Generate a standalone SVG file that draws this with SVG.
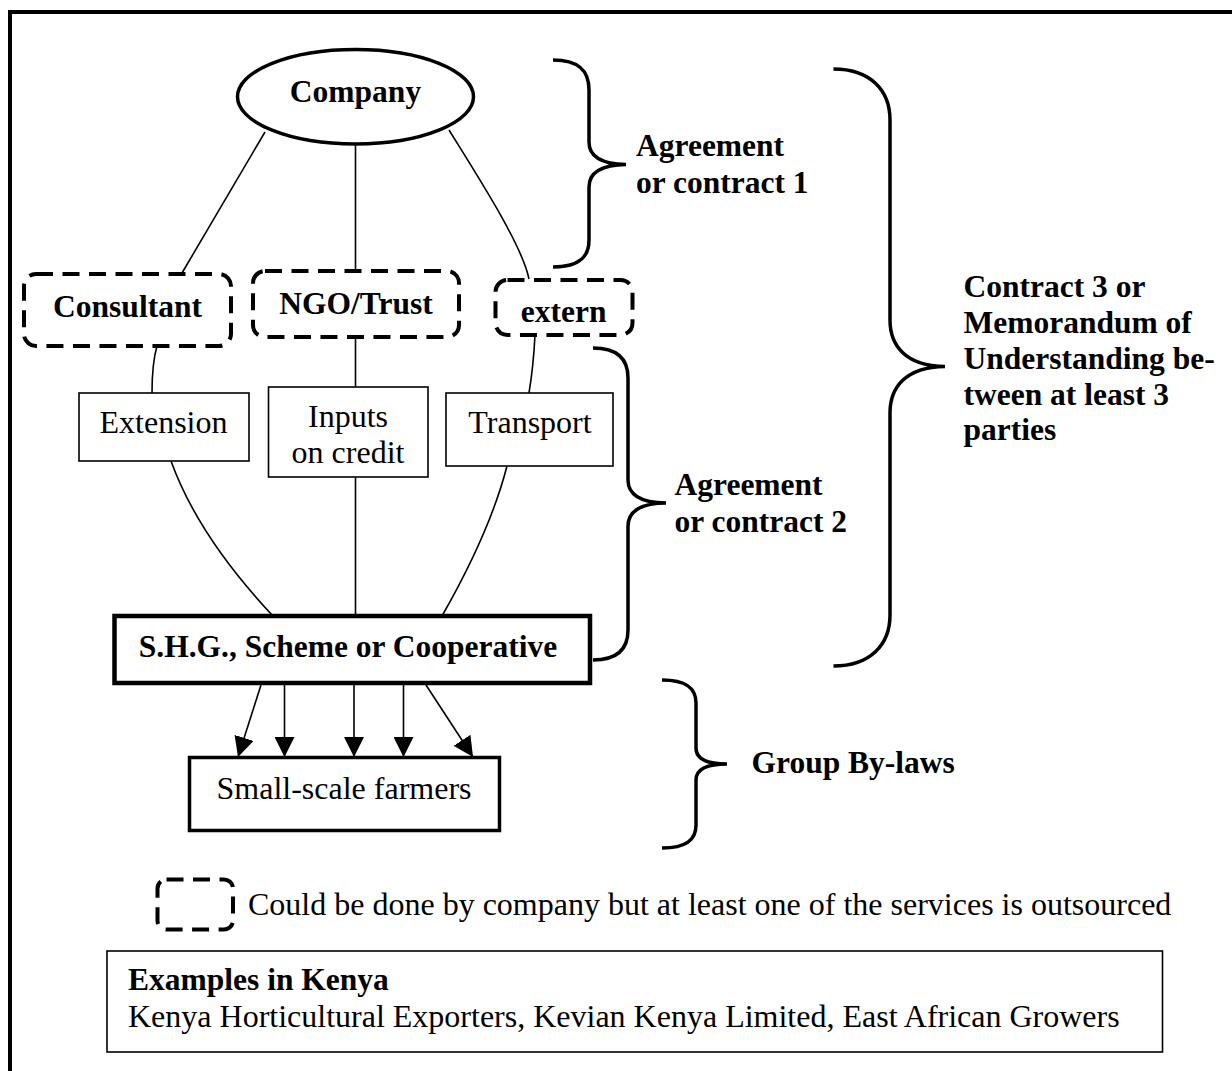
<svg xmlns="http://www.w3.org/2000/svg" width="1232" height="1071" viewBox="0 0 1232 1071">
<defs>
<style>
text { font-family: "Liberation Serif", "Times New Roman", serif; fill: #000; }
.b { font-weight: bold; font-size: 31.5px; }
.r { font-size: 32px; }
.c { text-anchor: middle; }
.thin { fill: #fff; stroke: #000; stroke-width: 1.6; }
.dash { fill: #fff; stroke: #000; stroke-width: 4; stroke-dasharray: 17 9.5; }
.conn { fill: none; stroke: #000; stroke-width: 1.6; }
.brace { fill: none; stroke: #000; stroke-width: 3.5; }
</style>
<marker id="ah" viewBox="0 0 20 20" refX="20" refY="10" markerWidth="20" markerHeight="20" markerUnits="userSpaceOnUse" orient="auto">
<path d="M0,0 L20,10 L0,20 Z" fill="#000"/>
</marker>
</defs>
<rect x="0" y="0" width="1232" height="1071" fill="#fff"/>
<path d="M10,1080 V12 H1240" fill="none" stroke="#000" stroke-width="4"/>

<g id="connectors">
<line class="conn" x1="265" y1="132" x2="182" y2="273"/>
<line class="conn" x1="355.5" y1="144" x2="355.5" y2="271"/>
<path class="conn" d="M449,130 C480,180 522,245 529,279"/>
<path class="conn" d="M157,346 C153,360 152,375 152,393"/>
<line class="conn" x1="355.5" y1="337" x2="355.5" y2="387"/>
<path class="conn" d="M535,335 C534,355 532,375 529,393"/>
<path class="conn" d="M171,461 Q198,536 273,616"/>
<line class="conn" x1="355.5" y1="477" x2="355.5" y2="616"/>
<path class="conn" d="M507,466 Q490,532 442,616"/>
<g marker-end="url(#ah)">
<line class="conn" x1="261" y1="685" x2="238" y2="757"/>
<line class="conn" x1="284.5" y1="685" x2="284.5" y2="757"/>
<line class="conn" x1="354" y1="685" x2="354" y2="757"/>
<line class="conn" x1="403.5" y1="685" x2="403.5" y2="757"/>
<line class="conn" x1="426" y1="685" x2="473" y2="757"/>
</g>
</g>

<g id="company">
<ellipse cx="355.5" cy="96.7" rx="118" ry="47.3" fill="#fff" stroke="#000" stroke-width="3.5"/>
<text class="b c" x="355.5" y="102">Company</text>
</g>

<g id="consultant">
<rect class="dash" x="24" y="274" width="207" height="72" rx="12"/>
<text class="b c" x="127.5" y="317">Consultant</text>
</g>
<g id="ngo">
<rect class="dash" x="253" y="271" width="206" height="66" rx="12"/>
<text class="b c" x="356" y="314">NGO/Trust</text>
</g>
<g id="extern">
<rect class="dash" x="495.5" y="280" width="137" height="55" rx="12"/>
<text class="b c" x="563.7" y="322">extern</text>
</g>

<g id="extension">
<rect class="thin" x="79" y="393" width="170" height="68"/>
<text class="r c" x="163.5" y="433">Extension</text>
</g>
<g id="inputs">
<rect class="thin" x="268.5" y="387" width="159.5" height="90"/>
<text class="r c" x="348" y="427">Inputs</text>
<text class="r c" x="348" y="463">on credit</text>
</g>
<g id="transport">
<rect class="thin" x="446" y="393" width="167" height="73"/>
<text class="r c" x="530" y="433">Transport</text>
</g>

<g id="shg">
<rect x="114.5" y="616" width="475.5" height="67" fill="#fff" stroke="#000" stroke-width="4.5"/>
<text class="b c" x="348" y="657">S.H.G., Scheme or Cooperative</text>
</g>

<g id="farmers">
<rect x="189.5" y="757.5" width="310" height="73" fill="#fff" stroke="#000" stroke-width="3.5"/>
<text class="r c" x="344" y="799">Small-scale farmers</text>
</g>

<g id="agreement1">
<path class="brace" d="M553,60 C578,60 589,70 589,90 V142 C589,156 600,164 626,164.5 C600,165 589,173 589,187 V240 C589,258 578,267 553,267"/>
<text class="b" x="636" y="156">Agreement</text>
<text class="b" x="636" y="193">or contract 1</text>
</g>

<g id="agreement2">
<path class="brace" d="M593,348 C616,348 628,358 628,378 V480 C628,494 640,503 666,503 C640,503 628,512 628,526 V630 C628,650 616,660 593,660"/>
<text class="b" x="674.5" y="495">Agreement</text>
<text class="b" x="674.5" y="532">or contract 2</text>
</g>

<g id="contract3">
<path class="brace" d="M833.5,69 C870,69 890,90 890,120 V320 C890,345 905,366 945,366.5 C905,367 890,388 890,413 V615 C890,645 870,666 833.5,666"/>
<text class="b" x="963.5" y="297">Contract 3 or</text>
<text class="b" x="963.5" y="333">Memorandum of</text>
<text class="b" x="963.5" y="369">Understanding be-</text>
<text class="b" x="963.5" y="405">tween at least 3</text>
<text class="b" x="963.5" y="440">parties</text>
</g>

<g id="bylaws">
<path class="brace" d="M662,680 C686,680 696,688 696,703 V748 C696,758 705,764 727,764 C705,764 696,770 696,780 V825 C696,840 686,848 662,848"/>
<text class="b" x="751.5" y="773">Group By-laws</text>
</g>

<g id="legend">
<rect class="dash" x="157.5" y="879.5" width="75.5" height="50" rx="9" stroke-dasharray="14 9"/>
<text class="r" x="248" y="915">Could be done by company but at least one of the services is outsourced</text>
</g>

<g id="examples">
<rect class="thin" x="107" y="951" width="1055.5" height="101" stroke-width="1.8"/>
<text class="b" x="128" y="990">Examples in Kenya</text>
<text class="r" x="128" y="1027">Kenya Horticultural Exporters, Kevian Kenya Limited, East African Growers</text>
</g>
</svg>
